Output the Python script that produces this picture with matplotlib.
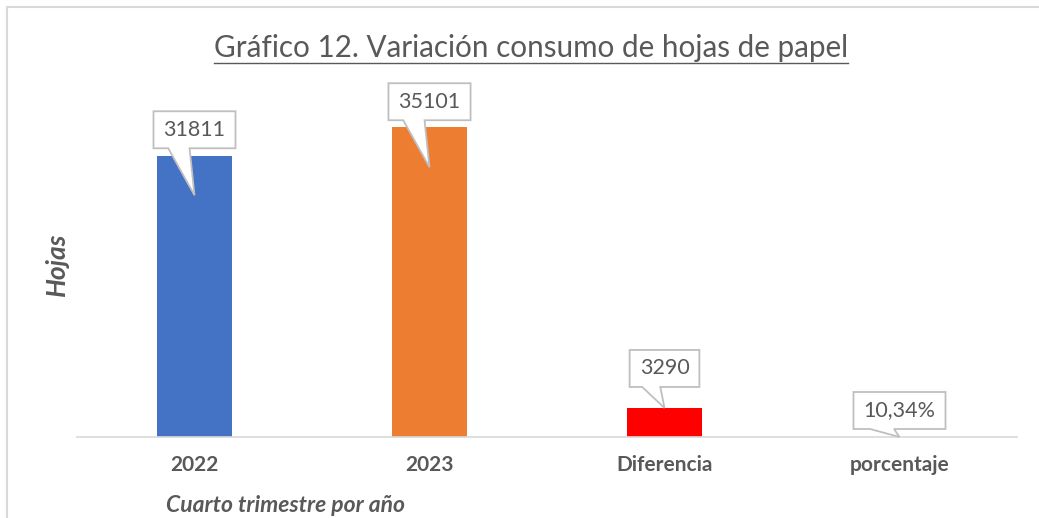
import matplotlib
matplotlib.use('Agg')
import matplotlib.pyplot as plt
from matplotlib.patches import Polygon, Rectangle
from matplotlib.transforms import IdentityTransform

# datos del grafico
categorias = ['2022', '2023', 'Diferencia', 'porcentaje']
valores = [31811, 35101, 3290, 0.1034]
etiquetas = ['31811', '35101', '3290', '10,34%']
colores = ['#4472C4', '#ED7D31', '#FF0000', '#A5A5A5']

titulo = 'Gráfico 12. Variación consumo de hojas de papel'
eje_y = 'Hojas'
eje_x = 'Cuarto trimestre por año'

# posicion de los globos (pixeles respecto al tope de la barra)
globo_sube = [8, 7, 21, 8]
punta_baja = [39, 40, 0, 0]

GRIS = '#595959'
plt.rcParams['font.family'] = ['Lato', 'DejaVu Sans']

W, H = 1039, 518
fig = plt.figure(figsize=(W / 100, H / 100), dpi=100)
ax = fig.add_axes([77 / W, 1 - 437 / H, 940 / W, 353 / H])

x = list(range(len(categorias)))
ax.bar(x, valores, width=0.315, color=colores, zorder=2)
ax.set_xlim(-0.5, len(categorias) - 0.5)
ax.set_ylim(0, 40000)

for s in ['top', 'right', 'left']:
    ax.spines[s].set_visible(False)
ax.spines['bottom'].set_color('#D9D9D9')
ax.spines['bottom'].set_linewidth(1.2)
ax.set_yticks([])
ax.set_xticks(x)
ax.set_xticklabels(categorias, fontsize=15, fontweight='bold', color=GRIS)
ax.tick_params(axis='x', length=0, pad=13)

# marco del grafico
fig.add_artist(Rectangle((6.5 / W, -0.2), 2, 1.2 - 6.5 / H, transform=fig.transFigure,
                         fill=False, ec='#D9D9D9', lw=1.5))

# titulo subrayado
t = fig.text(531 / W, 1 - 57 / H, titulo, ha='center', va='baseline',
             fontsize=21.3, color=GRIS)
fig.text(57 / W, 1 - 264 / H, eje_y, rotation=90, ha='center', va='center',
         fontsize=19, fontweight='bold', fontstyle='italic', color=GRIS)
fig.text(285 / W, 1 - 505 / H, eje_x, ha='center', va='center',
         fontsize=16.5, fontweight='bold', fontstyle='italic', color=GRIS)

fig.canvas.draw()
r = fig.canvas.get_renderer()
bb = t.get_window_extent(r)
yb = H - 63
fig.add_artist(plt.Line2D([bb.x0, bb.x1], [yb, yb], transform=IdentityTransform(),
                          color=GRIS, lw=1))

# globos con los valores
for i, v in enumerate(valores):
    xd, yd = ax.transData.transform((i, v))
    b = yd + globo_sube[i]
    alto = 37
    txt = fig.text(xd, b + alto / 2, etiquetas[i], transform=IdentityTransform(),
                   ha='center', va='center', fontsize=15.5, color=GRIS, zorder=6)
    tw = txt.get_window_extent(r).width
    ancho = tw + 20
    L, R, T = xd - ancho / 2, xd + ancho / 2, b + alto
    pts = [(L, T), (R, T), (R, b), (L + 0.44 * ancho, b), (xd, yd - punta_baja[i]),
           (L + 0.18 * ancho, b), (L, b)]
    fig.add_artist(Polygon(pts, closed=True, transform=IdentityTransform(),
                           fc='white', ec='#BFBFBF', lw=1.3, zorder=5))

fig.savefig('out.png', dpi=100)
